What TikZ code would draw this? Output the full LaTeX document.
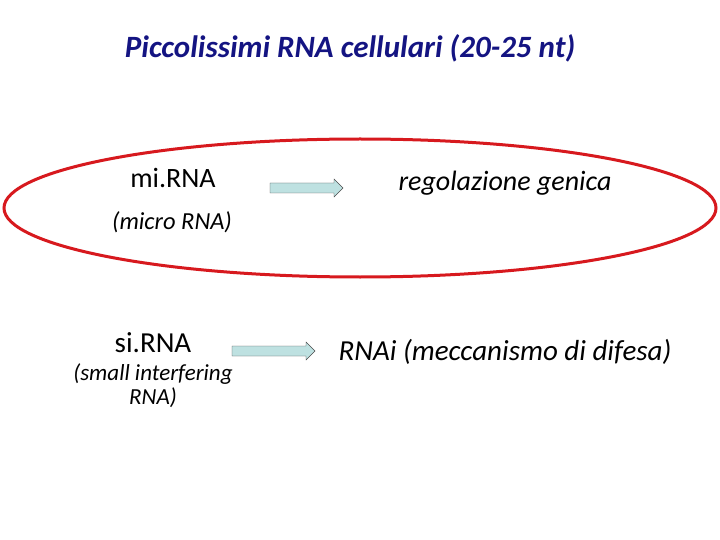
\documentclass[tikz,border=0pt]{standalone}
\usepackage{fontspec}
\setmainfont{Carlito}
\definecolor{titleblue}{RGB}{20,20,130}
\definecolor{ringred}{RGB}{215,25,30}
\definecolor{arrowfill}{RGB}{190,225,225}
\newcommand{\fatarrow}[3]{% x start, x end, y
  \filldraw[draw=black!70, fill=arrowfill, thin]
    (#1,#3-5) -- (#2-9,#3-5) -- (#2-9,#3-9) -- (#2,#3) -- (#2-9,#3+9)
    -- (#2-9,#3+5) -- (#1,#3+5) -- cycle;}
\begin{document}
\begin{tikzpicture}[x=1pt, y=-1pt,
    label/.style={inner sep=0pt, font=\itshape}
   ]
    \useasboundingbox (0,0) rectangle (720,540);
    \node[label, text=titleblue, font=\bfseries\itshape\fontsize{31}{36}\selectfont] (title) at (350,48) {Piccolissimi RNA cellulari (20-25 nt)};
    \draw[ringred, line width=3pt] (360,208) ellipse [x radius=356, y radius=69];
    % first row
    \node[label, font=\fontsize{28}{33}\selectfont] (mirna) at (173,178) {mi.RNA};
    \node[label, font=\itshape\fontsize{24.5}{29}\selectfont] (micro) at (172,222) {(micro RNA)};
    \fatarrow{270}{343}{188}
    \node[label, font=\itshape\fontsize{28}{33}\selectfont] (regol) at (505,183) {regolazione genica};
    % second row
    \node[label, font=\fontsize{29}{34}\selectfont] (sirna) at (153,343) {si.RNA};
    \node[label, align=center, font=\itshape\fontsize{23}{24}\selectfont] (small) at (153,386) {(small interfering\\RNA)};
    \fatarrow{232}{315}{351}
    \node[label, font=\itshape\fontsize{29}{34}\selectfont] (rnai) at (505,352) {RNAi (meccanismo di difesa)};
\end{tikzpicture}
\end{document}
